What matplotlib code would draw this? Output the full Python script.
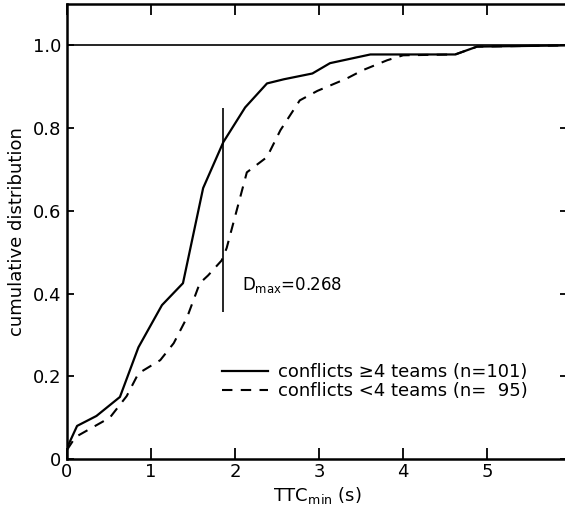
import matplotlib
matplotlib.use("Agg")
import matplotlib.pyplot as plt

# Data
x_ge4 = [0.0, 0.12, 0.35, 0.63, 0.85, 1.13, 1.38, 1.62, 1.86, 2.12, 2.38, 2.58, 2.92, 3.13, 3.61, 4.0, 4.62, 4.88, 6.0]
y_ge4 = [0.027, 0.08, 0.104, 0.15, 0.27, 0.372, 0.425, 0.655, 0.766, 0.85, 0.908, 0.918, 0.932, 0.957, 0.978, 0.978, 0.978, 0.997, 1.0]

x_lt4 = [0.0, 0.1, 0.51, 0.71, 0.85, 1.11, 1.27, 1.43, 1.58, 1.68, 1.84, 1.9, 2.14, 2.38, 2.54, 2.77, 2.98, 3.33, 3.52, 3.81, 4.0, 4.62, 4.88, 6.0]
y_lt4 = [0.022, 0.053, 0.1, 0.152, 0.207, 0.239, 0.28, 0.343, 0.425, 0.444, 0.48, 0.51, 0.693, 0.73, 0.795, 0.867, 0.89, 0.92, 0.94, 0.964, 0.976, 0.978, 0.997, 1.0]

dmax_x = 1.86
dmax_lo, dmax_hi = 0.355, 0.848
dmax_label = "D$_{\\mathrm{max}}$=0.268"
label_ge4 = "conflicts \u22654 teams (n=101)"
label_lt4 = "conflicts <4 teams (n=  95)"

xticks = [0, 1, 2, 3, 4, 5]
yticks = [0, 0.2, 0.4, 0.6, 0.8, 1.0]
ytick_labels = ["0", "0.2", "0.4", "0.6", "0.8", "1.0"]

fig = plt.figure(figsize=(5.65, 5.15), dpi=100)
ax = fig.add_axes([67 / 565, 56 / 515, 500 / 565, 455 / 515])

ax.plot(x_ge4, y_ge4, color="black", lw=1.6, ls="-", label=label_ge4)
ax.plot(x_lt4, y_lt4, color="black", lw=1.5, ls=(0, (5, 4)), label=label_lt4)
ax.axhline(1.0, color="black", lw=1.2)
ax.vlines(dmax_x, dmax_lo, dmax_hi, color="black", lw=1.2)
ax.text(2.08, 0.42, dmax_label, fontsize=12, va="center", ha="left")

ax.set_xlim(0, 5.95)
ax.set_ylim(0, 1.1)
ax.set_xticks(xticks)
ax.set_yticks(yticks)
ax.set_yticklabels(ytick_labels)
ax.tick_params(direction="in", top=True, right=True, labelsize=13, width=1.3)
ax.tick_params(axis="x", length=8, pad=3)
ax.tick_params(axis="y", length=5, pad=4)
for s in ax.spines.values():
    s.set_linewidth(1.8)

ax.set_xlabel("TTC$_{\\mathrm{min}}$ (s)", fontsize=13, labelpad=3)
ax.set_ylabel("cumulative distribution", fontsize=13, labelpad=5)

leg = ax.legend(loc="lower left", bbox_to_anchor=(0.295, 0.113), frameon=False,
                fontsize=13, handlelength=2.55, handletextpad=0.55, labelspacing=0.05,
                borderaxespad=0)

fig.savefig("out.png", dpi=100)
